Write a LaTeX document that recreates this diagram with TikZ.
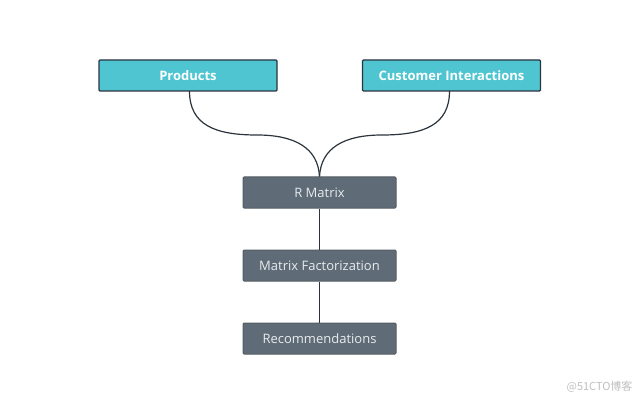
\documentclass[tikz,border=0pt]{standalone}
\usepackage{fontspec}
\setmainfont{Open Sans}
\newfontfamily\cjkfont{Noto Sans CJK SC}
\definecolor{tealbox}{HTML}{4EC5D1}
\definecolor{graybox}{HTML}{5F6B76}
\definecolor{edgecol}{HTML}{2B343C}
\definecolor{lighttext}{HTML}{E8ECEF}
\begin{document}
\begin{tikzpicture}[x=1pt,y=-1pt,
  topbox/.style={draw=edgecol,line width=1.1pt,fill=tealbox,rounded corners=1pt,minimum width=178pt,minimum height=31pt,inner sep=0pt,text=white,font=\fontsize{13}{15}\selectfont\bfseries},
  midbox/.style={draw=edgecol!80,line width=1pt,fill=graybox,rounded corners=1pt,minimum width=153pt,minimum height=31pt,inner sep=0pt,text=lighttext,font=\fontsize{13}{15}\selectfont},
  link/.style={draw=edgecol,line width=1.2pt}]
\useasboundingbox (0,0) rectangle (640,409);
\node[topbox] (prod) at (188,75.5) {Products};
\node[topbox] (cust) at (451.5,75.5) {Customer Interactions};
\node[midbox] (rm) at (319.5,192.5) {R Matrix};
\node[midbox] (mf) at (319.5,265.5) {Matrix Factorization};
\node[midbox] (rec) at (319.5,338.5) {Recommendations};
\coordinate (pb) at (189.5,91);
\coordinate (cb) at (449.5,91);
\coordinate (lm) at (257,135);
\coordinate (rmid) at (382,135);
\draw[link] (pb) .. controls (189.5,125) and (215,135) .. (lm)
  .. controls (295,135) and (318,148) .. (rm.north);
\draw[link] (cb) .. controls (449.5,125) and (424,135) .. (rmid)
  .. controls (344,135) and (321,148) .. (rm.north);
\draw[link] (rm) -- (mf);
\draw[link] (mf) -- (rec);
\node[text=black!25,font=\cjkfont\fontsize{11}{13}\selectfont,anchor=east] (wm) at (636,387) {@51CTO博客};
\end{tikzpicture}
\end{document}
